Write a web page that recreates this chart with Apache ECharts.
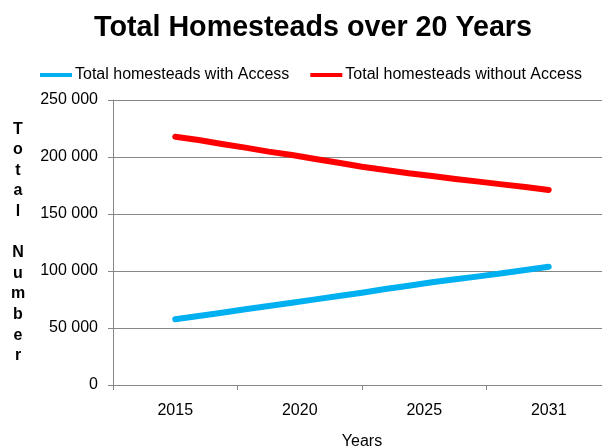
<!DOCTYPE html>
<html>
<head>
<meta charset="utf-8">
<script src="https://cdn.jsdelivr.net/npm/echarts@6/dist/echarts.min.js"></script>
<style>
  html, body { margin: 0; padding: 0; background: #fff; }
  #chart { width: 602px; height: 446px; }
</style>
</head>
<body>
<div id="chart"></div>
<script>
const titleText = 'Total Homesteads over 20 Years';
const seriesNames = ['Total homesteads with Access', 'Total homesteads without Access'];
const tickLabels = ['2015', '2020', '2025', '2031'];
const years = ['2015','2016','2017','2018','2019','2020','2021','2022','2023','2024','2025','2026','2027','2028','2029','2030','2031'];
const withAccess = [57600, 60500, 63400, 66400, 69300, 72200, 75100, 78100, 81000, 84200, 87100, 90100, 92700, 95300, 98000, 100900, 103800];
const withoutAccess = [217800, 214900, 211400, 208200, 204700, 201800, 198200, 195000, 191500, 188600, 185700, 183300, 180700, 178400, 176000, 173700, 171100];
const yAxisTitle = 'Total Number';
const xAxisTitle = 'Years';

const FONT = 'Arial, "Liberation Sans", sans-serif';
const gridLeft = 113, gridTop = 100, gridW = 498, gridH = 285;
const band = gridW / tickLabels.length;

function fmt(v) { return String(v).replace(/\B(?=(\d{3})+(?!\d))/g, ' '); }

const yName = yAxisTitle.split(' ').map(w => w.split('').join('\n')).join('\n\n');

const chart = echarts.init(document.getElementById('chart'), null, { renderer: 'canvas' });
chart.setOption({
  animation: false,
  backgroundColor: '#ffffff',
  title: {
    text: titleText,
    left: 308,
    textAlign: 'center',
    top: 9,
    textStyle: { fontFamily: FONT, fontSize: 28.7, fontWeight: 'bold', color: '#000' }
  },
  legend: {
    left: 35,
    top: 62,
    itemWidth: 32,
    itemHeight: 4,
    itemGap: 21,
    icon: 'rect',
    data: seriesNames,
    textStyle: { fontFamily: FONT, fontSize: 16, color: '#000', padding: [0, 0, 0, -2] }
  },
  grid: [
    { left: gridLeft, top: gridTop, width: gridW, height: gridH, containLabel: false, outerBoundsMode: 'none' },
    { left: gridLeft + band / 2, top: gridTop, width: gridW - band, height: gridH, containLabel: false, outerBoundsMode: 'none' }
  ],
  xAxis: [
    {
      type: 'category',
      gridIndex: 0,
      data: tickLabels,
      boundaryGap: true,
      name: xAxisTitle,
      nameLocation: 'middle',
      nameGap: 49,
      nameTextStyle: { fontFamily: FONT, fontSize: 16, color: '#000' },
      axisLine: { lineStyle: { color: '#868686', width: 1 } },
      axisTick: { show: true, length: 5, lineStyle: { color: '#868686' } },
      axisLabel: { fontFamily: FONT, fontSize: 16, color: '#000', margin: 18 },
      splitLine: { show: false }
    },
    {
      type: 'category',
      gridIndex: 1,
      data: years,
      boundaryGap: false,
      show: false
    }
  ],
  yAxis: [
    {
      type: 'value',
      gridIndex: 0,
      min: 0,
      max: 250000,
      interval: 50000,
      name: yName,
      nameLocation: 'middle',
      nameRotate: 0,
      nameGap: 95,
      nameTextStyle: { fontFamily: FONT, fontSize: 16, fontWeight: 'bold', color: '#000', align: 'center', verticalAlign: 'middle', lineHeight: 20.6, padding: [6, 0, 0, 0] },
      axisLine: { show: true, lineStyle: { color: '#868686', width: 1 } },
      axisTick: { show: true, length: 5, lineStyle: { color: '#868686' } },
      axisLabel: { fontFamily: FONT, fontSize: 16, color: '#000', margin: 15, formatter: fmt },
      splitLine: { show: true, lineStyle: { color: '#868686', width: 1 } }
    },
    {
      type: 'value',
      gridIndex: 1,
      min: 0,
      max: 250000,
      show: false,
      splitLine: { show: false }
    }
  ],
  series: [
    {
      name: seriesNames[0],
      type: 'line',
      xAxisIndex: 1,
      yAxisIndex: 1,
      data: withAccess,
      showSymbol: false,
      color: '#00B0F0',
      lineStyle: { width: 6, color: '#00B0F0', cap: 'round', join: 'round' }
    },
    {
      name: seriesNames[1],
      type: 'line',
      xAxisIndex: 1,
      yAxisIndex: 1,
      data: withoutAccess,
      showSymbol: false,
      color: '#FF0000',
      lineStyle: { width: 6, color: '#FF0000', cap: 'round', join: 'round' }
    }
  ]
});
</script>
</body>
</html>
